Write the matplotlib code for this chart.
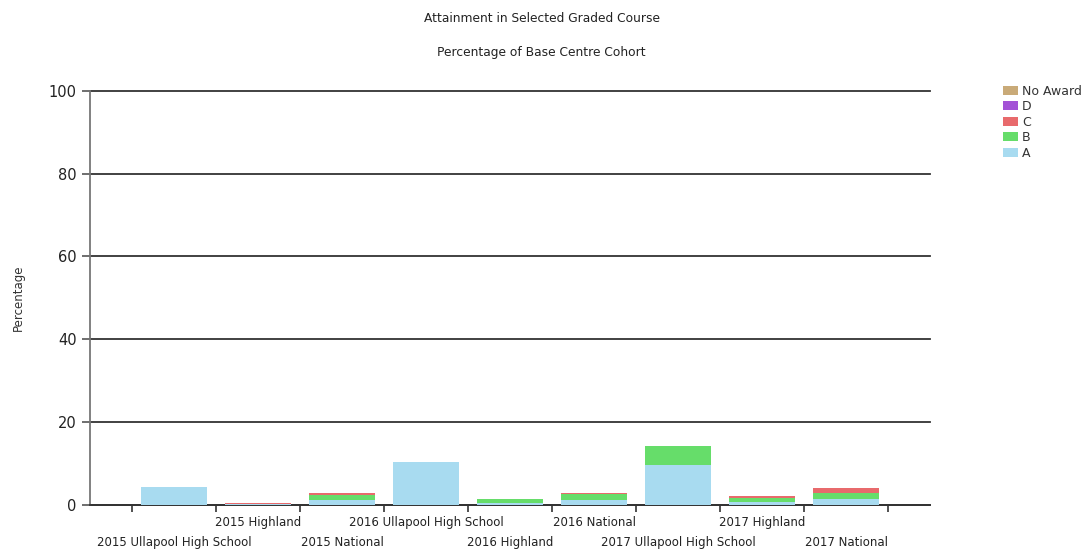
import matplotlib
matplotlib.use("Agg")
import matplotlib.pyplot as plt
import numpy as np
from matplotlib.patches import Patch

categories = ["2015 Ullapool High School", "2015 Highland", "2015 National",
              "2016 Ullapool High School", "2016 Highland", "2016 National",
              "2017 Ullapool High School", "2017 Highland", "2017 National"]
grade_A = [4.3, 0.2, 1.3, 10.4, 0.4, 1.3, 9.6, 0.8, 1.4]
grade_B = [0.0, 0.1, 1.2, 0.0, 1.0, 1.3, 4.6, 1.0, 1.5]
grade_C = [0.0, 0.1, 0.4, 0.0, 0.1, 0.4, 0.0, 0.4, 1.1]
grade_D = [0.0, 0.0, 0.1, 0.0, 0.0, 0.0, 0.0, 0.0, 0.0]
no_award = [0.0, 0.0, 0.0, 0.0, 0.0, 0.0, 0.0, 0.0, 0.0]

series = [("A", grade_A, "#a8dbf0"), ("B", grade_B, "#66dd6a"),
          ("C", grade_C, "#e86a6c"), ("D", grade_D, "#a352d6"),
          ("No Award", no_award, "#c9aa78")]

fig = plt.figure(figsize=(10.83, 5.54), dpi=100)
ax = fig.add_axes([0.083, 0.0884, 0.776, 0.748])

x = np.arange(len(categories))
bottom = np.zeros(len(categories))
for name, vals, col in series:
    v = np.array(vals)
    ax.bar(x, v, width=0.79, bottom=bottom, color=col, zorder=3)
    bottom += v

ax.set_xlim(-1, 9)
ax.set_ylim(0, 100)
ax.set_yticks([0, 20, 40, 60, 80, 100])
ax.yaxis.grid(True, color="#333333", linewidth=1.3, zorder=1)
for gl in ax.get_ygridlines():
    gl.set_clip_on(False)
ax.tick_params(axis="y", labelsize=10.5, colors="#555555", length=6, width=1.2,
               labelcolor="#222222")

ax.set_xticks(np.arange(-0.5, 9.0, 1.0))
ax.set_xticklabels([])
ax.tick_params(axis="x", which="major", length=5, width=1.2, colors="#333333")

for i, c in enumerate(categories):
    off = -17 if i % 2 == 1 else -37
    ax.annotate(c, xy=(x[i], 0), xycoords=("data", "axes fraction"),
                xytext=(0, off * 0.72), textcoords="offset points",
                ha="center", va="center", fontsize=8.5, color="#222222",
                annotation_clip=False)

for s in ["top", "right"]:
    ax.spines[s].set_visible(False)
ax.spines["left"].set_color("#777777")
ax.spines["left"].set_linewidth(1.3)
ax.spines["bottom"].set_color("#333333")
ax.spines["bottom"].set_linewidth(1.3)

ax.set_ylabel("Percentage", fontsize=8.5, color="#333333", labelpad=17)

fig.text(0.5, 0.967, "Attainment in Selected Graded Course", ha="center", va="center",
         fontsize=8.8, color="#222222")
fig.text(0.5, 0.905, "Percentage of Base Centre Cohort", ha="center", va="center",
         fontsize=8.8, color="#222222")

handles = [Patch(facecolor=col, label=name) for name, vals, col in reversed(series)]
leg = fig.legend(handles=handles, loc="upper left", bbox_to_anchor=(0.926, 0.847),
                 frameon=False, fontsize=9, handlelength=1.2, handleheight=0.75,
                 handletextpad=0.35, labelspacing=0.2, borderaxespad=0,
                 borderpad=0)
for t in leg.get_texts():
    t.set_color("#333333")

fig.savefig("out.png", dpi=100)
